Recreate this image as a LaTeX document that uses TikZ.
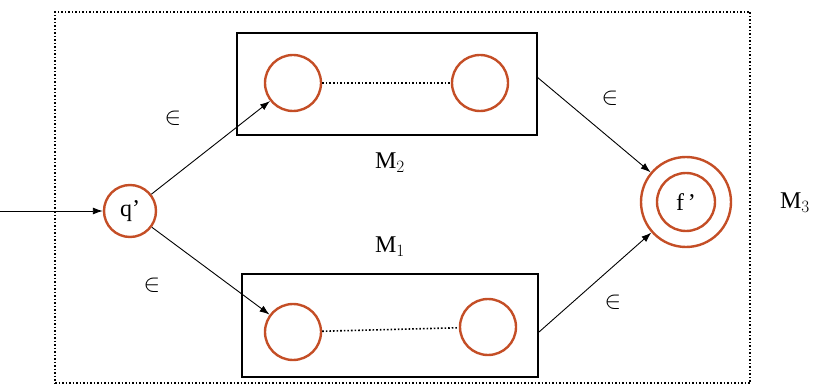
\documentclass[tikz,border=0pt]{standalone}
\usepackage{fontspec}
\setmainfont{Liberation Serif}
\usetikzlibrary{arrows.meta}
\definecolor{statecol}{RGB}{196,78,38}
\tikzset{
  state/.style={circle, draw=statecol, line width=2.4pt, minimum size=#1, inner sep=0pt},
  machine/.style={draw, line width=1.1pt, inner sep=0pt},
  trans/.style={-{Latex[length=10pt,width=7pt]}, line width=0.9pt},
  lbl/.style={font=\fontsize{24}{26}\selectfont},
  eps/.style={font=\fontsize{26}{28}\selectfont}
}
\begin{document}
\begin{tikzpicture}[x=1pt, y=-1pt]
    \useasboundingbox (0,0) rectangle (814,390);
    \node[draw, dotted, line width=1.5pt, minimum width=695, minimum height=371, inner sep=0pt] (m3box) at (402.5,197.5) {};

    \node[state=52, lbl] (q) at (130,211) {q'};
    \node[machine, minimum width=300, minimum height=102] (m2box) at (387,84) {};
    \node[machine, minimum width=296, minimum height=103] (m1box) at (390,325.5) {};
    \node[state=56] (a2) at (293,83) {};
    \node[state=56] (b2) at (480,83) {};
    \node[state=56] (a1) at (293,332) {};
    \node[state=56] (b1) at (488,327) {};
    \node[state=90] (f) at (686,202) {};
    \node[state=58, lbl] (fin) at (f.center) {f\,'};

    \node[lbl] (m2) at (390,163) {M$_2$};
    \node[lbl] (m1) at (390,247) {M$_1$};
    \node[lbl] (m3) at (795,203) {M$_3$};

    \coordinate (start) at (0,211);
    \coordinate (m2out) at (537,77);
    \coordinate (m1out) at (539,332);

    \draw[dotted, line width=1.6pt] (a2) -- (b2);
    \draw[dotted, line width=1.6pt] (a1) -- (b1);

    \draw[trans] (start) -- (q);
    \draw[trans] (q) -- (a2);
    \draw[trans] (q) -- (a1);
    \draw[trans] (m2out) -- (f);
    \draw[trans] (m1out) -- (f);

    \node[eps] (e1) at (173,118) {$\in$};
    \node[eps] (e2) at (152,285) {$\in$};
    \node[eps] (e3) at (610,98) {$\in$};
    \node[eps] (e4) at (613,302) {$\in$};
\end{tikzpicture}
\end{document}
